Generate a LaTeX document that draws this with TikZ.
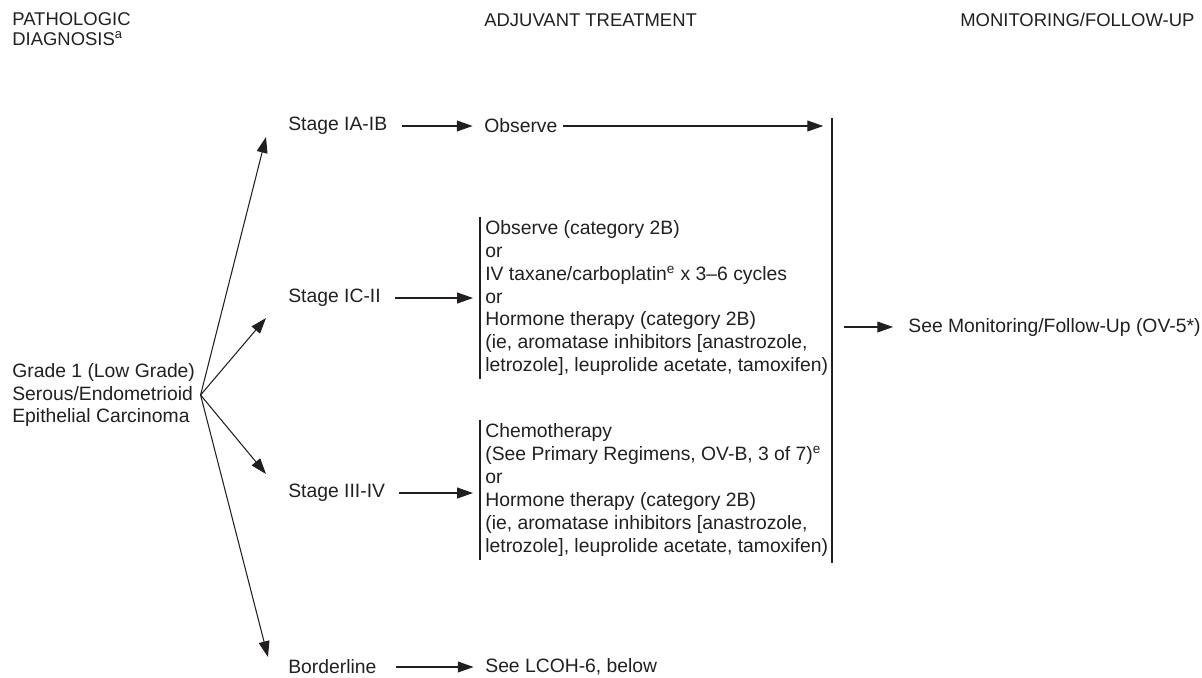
\documentclass[tikz,border=0pt]{standalone}
\usepackage{fontspec}
\setmainfont{Liberation Sans}
\usetikzlibrary{arrows.meta}

\definecolor{ink}{HTML}{231F20}
\tikzset{
  txt/.style={inner sep=0pt, anchor=west, align=left, text=ink, font=\fontsize{11}{13}\selectfont},
  hdr/.style={inner sep=0pt, anchor=west, align=left, text=ink, font=\fontsize{10.5}{11}\selectfont},
  arr/.style={draw=ink, line width=0.6pt, -{Triangle[length=9pt,width=6.2pt]}},
  harr/.style={arr, shorten <=8pt, shorten >=6.5pt},
  brk/.style={draw=ink, line width=0.6pt}
}

\begin{document}
\begin{tikzpicture}[x=0.02cm,y=-0.02cm]
          \useasboundingbox (0,0) rectangle (1202,677);
          % Headers
          \node[hdr] (hpath) at (12,29) {PATHOLOGIC\\DIAGNOSIS\textsuperscript{a}};
          \node[hdr] (hadj) at (484,20) {ADJUVANT TREATMENT};
          \node[hdr] (hmon) at (960,20) {MONITORING/FOLLOW-UP};
          % Diagnosis
          \node[txt] (grade) at (12,395) {Grade 1 (Low Grade)\\Serous/Endometrioid\\Epithelial Carcinoma};
          \coordinate (src) at ([xshift=3pt]grade.east);
          % Stages
          \node[txt] (s1) at (288,126) {Stage IA-IB};
          \node[txt] (s2) at (288,298) {Stage IC-II};
          \node[txt] (s3) at (288,493) {Stage III-IV};
          \node[txt] (s4) at (288,667) {Borderline};
          \draw[arr] (src) -- ([shift={(-22,11)}]s1.west);
          \draw[arr] (src) -- ([shift={(-22,20)}]s2.west);
          \draw[arr] (src) -- ([shift={(-22,-19)}]s3.west);
          \draw[arr] (src) -- ([shift={(-20,-10)}]s4.west);
          % Adjuvant treatment
          \node[txt] (obs) at (484,126) {Observe};
          \node[txt, inner xsep=0.1cm, inner ysep=2pt] (t2) at (480,298) {Observe (category 2B)\\or\\IV taxane/carboplatin\textsuperscript{e} x 3–6 cycles\\or\\Hormone therapy (category 2B)\\(ie, aromatase inhibitors [anastrozole,\\letrozole], leuprolide acetate, tamoxifen)};
          \node[txt, inner xsep=0.1cm, inner ysep=2pt] (t3) at (480,490) {Chemotherapy\\(See Primary Regimens, OV-B, 3 of 7)\textsuperscript{e}\\or\\Hormone therapy (category 2B)\\(ie, aromatase inhibitors [anastrozole,\\letrozole], leuprolide acetate, tamoxifen)};
          \node[txt] (lcoh) at (485,667) {See LCOH-6, below};
          \draw[brk] (t2.north west) -- (t2.south west);
          \draw[brk] (t3.north west) -- (t3.south west);
          \draw[harr] (s1.east) -- (obs.west);
          \draw[harr, shorten >=4pt] (s2.east) -- (s2.east -| t2.west);
          \draw[harr, shorten >=4pt] (s3.east) -- (s3.east -| t3.west);
          \draw[harr, shorten <=11pt] (s4.east) -- (lcoh.west);
          % Monitoring
          \coordinate (vtop) at (832,118);
          \coordinate (vbot) at (832,563);
          \draw[brk] (vtop) -- (vbot);
          \node[txt] (mon) at (908,327) {See Monitoring/Follow-Up (OV-5*)};
          \draw[arr, shorten <=3pt, shorten >=5pt] (obs.east) -- (obs.east -| vtop);
          \draw[arr, shorten <=7pt, shorten >=8.5pt] (vtop |- mon) -- (mon.west);
        \end{tikzpicture}
\end{document}
